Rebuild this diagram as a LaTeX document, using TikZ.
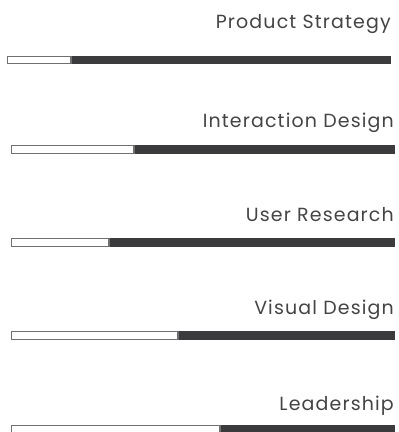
\documentclass[tikz,border=0pt]{standalone}
\usepackage{fontspec}
\setmainfont{Poppins}[LetterSpace=6]
\usepackage{tikz}
\usetikzlibrary{positioning}

\definecolor{bardark}{HTML}{3B3B3D}
\definecolor{barline}{HTML}{707070}
\definecolor{labelgray}{HTML}{444444}

\tikzset{
  skill/.style={anchor=base east, text=labelgray, font=\fontsize{19}{22}\selectfont, inner sep=0pt},
  barfill/.style={fill=bardark, draw=none},
  barempty/.style={fill=white, draw=barline, line width=1.2pt}
}

\begin{document}
\begin{tikzpicture}[x=1pt,y=-1pt]
    \useasboundingbox (0,0) rectangle (399,432);
    % first row sits a bit further left
    \node[skill] (ps) at (391,28) {Product Strategy};
    \draw[barfill] (71,56) rectangle (391,64);
    \draw[barempty] (7.6,56.6) rectangle (71,63.4);
    % remaining rows
    \foreach \name/\txt/\ty/\by/\split in {id/Interaction Design/127/145/134,
        ur/User Research/221/238/109,
        vd/Visual Design/314/331/178,
        ld/Leadership/410/425/220}{
      \node[skill] (\name) at (394,\ty) {\txt};
      \draw[barfill] (\split,\by) rectangle (395,\by+9);
      \draw[barempty] (11.6,\by+0.6) rectangle (\split,\by+8.4);
    }
\end{tikzpicture}
\end{document}
